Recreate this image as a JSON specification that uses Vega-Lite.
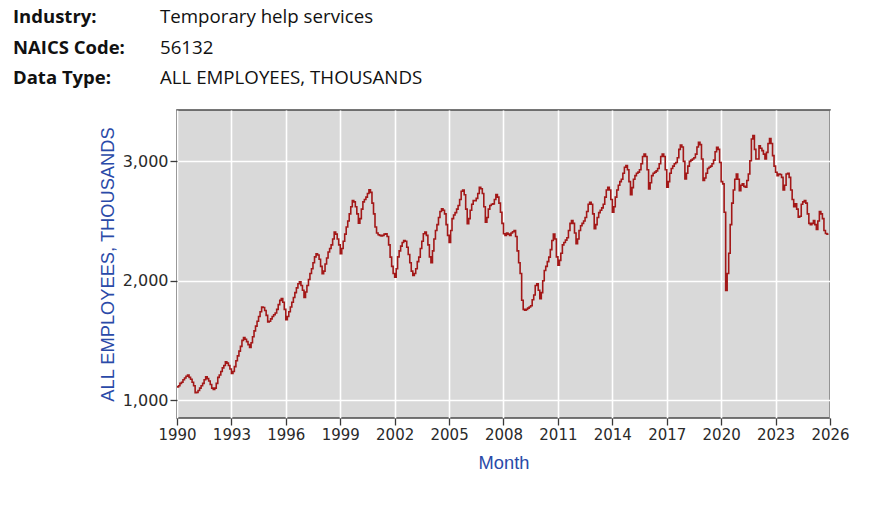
{
  "$schema": "https://vega.github.io/schema/vega-lite/v6.json",
  "autosize": {"type": "pad"},
  "padding": {"left": 13, "top": 7, "right": 10, "bottom": 10},
  "background": "white",
  "bounds": "flush",
  "title": {
    "text": ["Industry:", "NAICS Code:", "Data Type:"],
    "anchor": "start",
    "frame": "group",
    "font": "Open Sans",
    "fontSize": 18.5,
    "fontWeight": "bold",
    "color": "#111111",
    "lineHeight": 30.5,
    "dx": -164,
    "offset": -80
  },
  "config": {
    "view": {"fill": "#d9d9d9", "stroke": "#4a4a4a", "strokeWidth": 1.6},
    "axis": {
      "labelFont": "DejaVu Sans",
      "labelColor": "#2a2a2a",
      "tickColor": "#3a3a3a",
      "tickSize": 7,
      "tickWidth": 1.3,
      "domain": false,
      "gridColor": "#ffffff",
      "gridWidth": 1.6,
      "titleFont": "Liberation Sans",
      "titleFontWeight": "normal",
      "titleColor": "#2a4aa8",
      "titleFontSize": 18.3
    }
  },
  "vconcat": [
    {
      "width": 653,
      "height": 308,
      "title": {
        "text": ["Temporary help services", "56132", "ALL EMPLOYEES, THOUSANDS"],
        "anchor": "start",
        "frame": "group",
        "font": "Open Sans",
        "fontSize": 18.7,
        "fontWeight": "normal",
        "color": "#111111",
        "lineHeight": 30.5,
        "dx": -17,
        "offset": 22
      },
      "data": {
        "format": {"parse": {"m": "date:'%Y-%m'"}},
        "values": [
          {"m": "1990-01", "v": 1111}, {"m": "1990-02", "v": 1120}, {"m": "1990-03", "v": 1140}, {"m": "1990-04", "v": 1150}, {"m": "1990-05", "v": 1170}, {"m": "1990-06", "v": 1185}, {"m": "1990-07", "v": 1200}, {"m": "1990-08", "v": 1209}, {"m": "1990-09", "v": 1190}, {"m": "1990-10", "v": 1175}, {"m": "1990-11", "v": 1150}, {"m": "1990-12", "v": 1120},
          {"m": "1991-01", "v": 1061}, {"m": "1991-02", "v": 1065}, {"m": "1991-03", "v": 1080}, {"m": "1991-04", "v": 1100}, {"m": "1991-05", "v": 1120}, {"m": "1991-06", "v": 1140}, {"m": "1991-07", "v": 1170}, {"m": "1991-08", "v": 1195}, {"m": "1991-09", "v": 1180}, {"m": "1991-10", "v": 1160}, {"m": "1991-11", "v": 1130}, {"m": "1991-12", "v": 1100},
          {"m": "1992-01", "v": 1089}, {"m": "1992-02", "v": 1100}, {"m": "1992-03", "v": 1140}, {"m": "1992-04", "v": 1190}, {"m": "1992-05", "v": 1210}, {"m": "1992-06", "v": 1240}, {"m": "1992-07", "v": 1270}, {"m": "1992-08", "v": 1290}, {"m": "1992-09", "v": 1320}, {"m": "1992-10", "v": 1310}, {"m": "1992-11", "v": 1290}, {"m": "1992-12", "v": 1260},
          {"m": "1993-01", "v": 1223}, {"m": "1993-02", "v": 1240}, {"m": "1993-03", "v": 1280}, {"m": "1993-04", "v": 1330}, {"m": "1993-05", "v": 1370}, {"m": "1993-06", "v": 1410}, {"m": "1993-07", "v": 1450}, {"m": "1993-08", "v": 1500}, {"m": "1993-09", "v": 1524}, {"m": "1993-10", "v": 1510}, {"m": "1993-11", "v": 1490}, {"m": "1993-12", "v": 1465},
          {"m": "1994-01", "v": 1440}, {"m": "1994-02", "v": 1480}, {"m": "1994-03", "v": 1530}, {"m": "1994-04", "v": 1580}, {"m": "1994-05", "v": 1620}, {"m": "1994-06", "v": 1660}, {"m": "1994-07", "v": 1700}, {"m": "1994-08", "v": 1740}, {"m": "1994-09", "v": 1780}, {"m": "1994-10", "v": 1775}, {"m": "1994-11", "v": 1750}, {"m": "1994-12", "v": 1710},
          {"m": "1995-01", "v": 1654}, {"m": "1995-02", "v": 1660}, {"m": "1995-03", "v": 1680}, {"m": "1995-04", "v": 1700}, {"m": "1995-05", "v": 1715}, {"m": "1995-06", "v": 1730}, {"m": "1995-07", "v": 1760}, {"m": "1995-08", "v": 1800}, {"m": "1995-09", "v": 1835}, {"m": "1995-10", "v": 1850}, {"m": "1995-11", "v": 1820}, {"m": "1995-12", "v": 1760},
          {"m": "1996-01", "v": 1674}, {"m": "1996-02", "v": 1700}, {"m": "1996-03", "v": 1740}, {"m": "1996-04", "v": 1780}, {"m": "1996-05", "v": 1820}, {"m": "1996-06", "v": 1860}, {"m": "1996-07", "v": 1900}, {"m": "1996-08", "v": 1940}, {"m": "1996-09", "v": 1975}, {"m": "1996-10", "v": 1990}, {"m": "1996-11", "v": 1960}, {"m": "1996-12", "v": 1920},
          {"m": "1997-01", "v": 1860}, {"m": "1997-02", "v": 1905}, {"m": "1997-03", "v": 1960}, {"m": "1997-04", "v": 2010}, {"m": "1997-05", "v": 2060}, {"m": "1997-06", "v": 2100}, {"m": "1997-07", "v": 2150}, {"m": "1997-08", "v": 2200}, {"m": "1997-09", "v": 2226}, {"m": "1997-10", "v": 2215}, {"m": "1997-11", "v": 2180}, {"m": "1997-12", "v": 2120},
          {"m": "1998-01", "v": 2059}, {"m": "1998-02", "v": 2080}, {"m": "1998-03", "v": 2140}, {"m": "1998-04", "v": 2190}, {"m": "1998-05", "v": 2240}, {"m": "1998-06", "v": 2270}, {"m": "1998-07", "v": 2300}, {"m": "1998-08", "v": 2350}, {"m": "1998-09", "v": 2407}, {"m": "1998-10", "v": 2390}, {"m": "1998-11", "v": 2350}, {"m": "1998-12", "v": 2300},
          {"m": "1999-01", "v": 2226}, {"m": "1999-02", "v": 2270}, {"m": "1999-03", "v": 2330}, {"m": "1999-04", "v": 2390}, {"m": "1999-05", "v": 2450}, {"m": "1999-06", "v": 2500}, {"m": "1999-07", "v": 2560}, {"m": "1999-08", "v": 2620}, {"m": "1999-09", "v": 2671}, {"m": "1999-10", "v": 2660}, {"m": "1999-11", "v": 2620}, {"m": "1999-12", "v": 2560},
          {"m": "2000-01", "v": 2482}, {"m": "2000-02", "v": 2520}, {"m": "2000-03", "v": 2600}, {"m": "2000-04", "v": 2660}, {"m": "2000-05", "v": 2680}, {"m": "2000-06", "v": 2700}, {"m": "2000-07", "v": 2730}, {"m": "2000-08", "v": 2761}, {"m": "2000-09", "v": 2740}, {"m": "2000-10", "v": 2650}, {"m": "2000-11", "v": 2560}, {"m": "2000-12", "v": 2450},
          {"m": "2001-01", "v": 2400}, {"m": "2001-02", "v": 2385}, {"m": "2001-03", "v": 2380}, {"m": "2001-04", "v": 2375}, {"m": "2001-05", "v": 2380}, {"m": "2001-06", "v": 2390}, {"m": "2001-07", "v": 2393}, {"m": "2001-08", "v": 2370}, {"m": "2001-09", "v": 2300}, {"m": "2001-10", "v": 2198}, {"m": "2001-11", "v": 2120}, {"m": "2001-12", "v": 2060},
          {"m": "2002-01", "v": 2030}, {"m": "2002-02", "v": 2100}, {"m": "2002-03", "v": 2200}, {"m": "2002-04", "v": 2250}, {"m": "2002-05", "v": 2290}, {"m": "2002-06", "v": 2320}, {"m": "2002-07", "v": 2337}, {"m": "2002-08", "v": 2330}, {"m": "2002-09", "v": 2280}, {"m": "2002-10", "v": 2220}, {"m": "2002-11", "v": 2150}, {"m": "2002-12", "v": 2080},
          {"m": "2003-01", "v": 2045}, {"m": "2003-02", "v": 2060}, {"m": "2003-03", "v": 2100}, {"m": "2003-04", "v": 2160}, {"m": "2003-05", "v": 2198}, {"m": "2003-06", "v": 2270}, {"m": "2003-07", "v": 2330}, {"m": "2003-08", "v": 2393}, {"m": "2003-09", "v": 2407}, {"m": "2003-10", "v": 2380}, {"m": "2003-11", "v": 2300}, {"m": "2003-12", "v": 2200},
          {"m": "2004-01", "v": 2150}, {"m": "2004-02", "v": 2250}, {"m": "2004-03", "v": 2350}, {"m": "2004-04", "v": 2420}, {"m": "2004-05", "v": 2470}, {"m": "2004-06", "v": 2530}, {"m": "2004-07", "v": 2580}, {"m": "2004-08", "v": 2602}, {"m": "2004-09", "v": 2590}, {"m": "2004-10", "v": 2560}, {"m": "2004-11", "v": 2470}, {"m": "2004-12", "v": 2380},
          {"m": "2005-01", "v": 2320}, {"m": "2005-02", "v": 2420}, {"m": "2005-03", "v": 2520}, {"m": "2005-04", "v": 2550}, {"m": "2005-05", "v": 2570}, {"m": "2005-06", "v": 2600}, {"m": "2005-07", "v": 2630}, {"m": "2005-08", "v": 2680}, {"m": "2005-09", "v": 2749}, {"m": "2005-10", "v": 2760}, {"m": "2005-11", "v": 2720}, {"m": "2005-12", "v": 2600},
          {"m": "2006-01", "v": 2477}, {"m": "2006-02", "v": 2520}, {"m": "2006-03", "v": 2590}, {"m": "2006-04", "v": 2640}, {"m": "2006-05", "v": 2671}, {"m": "2006-06", "v": 2671}, {"m": "2006-07", "v": 2690}, {"m": "2006-08", "v": 2730}, {"m": "2006-09", "v": 2783}, {"m": "2006-10", "v": 2770}, {"m": "2006-11", "v": 2730}, {"m": "2006-12", "v": 2620},
          {"m": "2007-01", "v": 2490}, {"m": "2007-02", "v": 2530}, {"m": "2007-03", "v": 2600}, {"m": "2007-04", "v": 2630}, {"m": "2007-05", "v": 2640}, {"m": "2007-06", "v": 2644}, {"m": "2007-07", "v": 2680}, {"m": "2007-08", "v": 2722}, {"m": "2007-09", "v": 2700}, {"m": "2007-10", "v": 2650}, {"m": "2007-11", "v": 2574}, {"m": "2007-12", "v": 2480},
          {"m": "2008-01", "v": 2393}, {"m": "2008-02", "v": 2380}, {"m": "2008-03", "v": 2400}, {"m": "2008-04", "v": 2390}, {"m": "2008-05", "v": 2380}, {"m": "2008-06", "v": 2400}, {"m": "2008-07", "v": 2410}, {"m": "2008-08", "v": 2420}, {"m": "2008-09", "v": 2370}, {"m": "2008-10", "v": 2250}, {"m": "2008-11", "v": 2150}, {"m": "2008-12", "v": 2060},
          {"m": "2009-01", "v": 1836}, {"m": "2009-02", "v": 1760}, {"m": "2009-03", "v": 1752}, {"m": "2009-04", "v": 1760}, {"m": "2009-05", "v": 1770}, {"m": "2009-06", "v": 1780}, {"m": "2009-07", "v": 1790}, {"m": "2009-08", "v": 1840}, {"m": "2009-09", "v": 1880}, {"m": "2009-10", "v": 1960}, {"m": "2009-11", "v": 1975}, {"m": "2009-12", "v": 1920},
          {"m": "2010-01", "v": 1850}, {"m": "2010-02", "v": 1900}, {"m": "2010-03", "v": 2000}, {"m": "2010-04", "v": 2086}, {"m": "2010-05", "v": 2120}, {"m": "2010-06", "v": 2160}, {"m": "2010-07", "v": 2198}, {"m": "2010-08", "v": 2260}, {"m": "2010-09", "v": 2337}, {"m": "2010-10", "v": 2390}, {"m": "2010-11", "v": 2350}, {"m": "2010-12", "v": 2200},
          {"m": "2011-01", "v": 2130}, {"m": "2011-02", "v": 2170}, {"m": "2011-03", "v": 2230}, {"m": "2011-04", "v": 2300}, {"m": "2011-05", "v": 2320}, {"m": "2011-06", "v": 2340}, {"m": "2011-07", "v": 2360}, {"m": "2011-08", "v": 2420}, {"m": "2011-09", "v": 2480}, {"m": "2011-10", "v": 2504}, {"m": "2011-11", "v": 2480}, {"m": "2011-12", "v": 2400},
          {"m": "2012-01", "v": 2310}, {"m": "2012-02", "v": 2350}, {"m": "2012-03", "v": 2420}, {"m": "2012-04", "v": 2460}, {"m": "2012-05", "v": 2480}, {"m": "2012-06", "v": 2500}, {"m": "2012-07", "v": 2530}, {"m": "2012-08", "v": 2580}, {"m": "2012-09", "v": 2640}, {"m": "2012-10", "v": 2657}, {"m": "2012-11", "v": 2640}, {"m": "2012-12", "v": 2560},
          {"m": "2013-01", "v": 2435}, {"m": "2013-02", "v": 2470}, {"m": "2013-03", "v": 2530}, {"m": "2013-04", "v": 2570}, {"m": "2013-05", "v": 2590}, {"m": "2013-06", "v": 2610}, {"m": "2013-07", "v": 2640}, {"m": "2013-08", "v": 2700}, {"m": "2013-09", "v": 2760}, {"m": "2013-10", "v": 2783}, {"m": "2013-11", "v": 2760}, {"m": "2013-12", "v": 2680},
          {"m": "2014-01", "v": 2574}, {"m": "2014-02", "v": 2620}, {"m": "2014-03", "v": 2700}, {"m": "2014-04", "v": 2760}, {"m": "2014-05", "v": 2800}, {"m": "2014-06", "v": 2830}, {"m": "2014-07", "v": 2850}, {"m": "2014-08", "v": 2900}, {"m": "2014-09", "v": 2950}, {"m": "2014-10", "v": 2964}, {"m": "2014-11", "v": 2930}, {"m": "2014-12", "v": 2830},
          {"m": "2015-01", "v": 2720}, {"m": "2015-02", "v": 2780}, {"m": "2015-03", "v": 2850}, {"m": "2015-04", "v": 2880}, {"m": "2015-05", "v": 2900}, {"m": "2015-06", "v": 2910}, {"m": "2015-07", "v": 2930}, {"m": "2015-08", "v": 2980}, {"m": "2015-09", "v": 3040}, {"m": "2015-10", "v": 3062}, {"m": "2015-11", "v": 3040}, {"m": "2015-12", "v": 2930},
          {"m": "2016-01", "v": 2769}, {"m": "2016-02", "v": 2820}, {"m": "2016-03", "v": 2880}, {"m": "2016-04", "v": 2900}, {"m": "2016-05", "v": 2910}, {"m": "2016-06", "v": 2920}, {"m": "2016-07", "v": 2940}, {"m": "2016-08", "v": 2980}, {"m": "2016-09", "v": 3040}, {"m": "2016-10", "v": 3062}, {"m": "2016-11", "v": 3040}, {"m": "2016-12", "v": 2930},
          {"m": "2017-01", "v": 2783}, {"m": "2017-02", "v": 2830}, {"m": "2017-03", "v": 2900}, {"m": "2017-04", "v": 2940}, {"m": "2017-05", "v": 2960}, {"m": "2017-06", "v": 2980}, {"m": "2017-07", "v": 2990}, {"m": "2017-08", "v": 3030}, {"m": "2017-09", "v": 3100}, {"m": "2017-10", "v": 3137}, {"m": "2017-11", "v": 3120}, {"m": "2017-12", "v": 3000},
          {"m": "2018-01", "v": 2853}, {"m": "2018-02", "v": 2900}, {"m": "2018-03", "v": 2960}, {"m": "2018-04", "v": 3000}, {"m": "2018-05", "v": 3010}, {"m": "2018-06", "v": 3020}, {"m": "2018-07", "v": 3030}, {"m": "2018-08", "v": 3060}, {"m": "2018-09", "v": 3120}, {"m": "2018-10", "v": 3159}, {"m": "2018-11", "v": 3140}, {"m": "2018-12", "v": 3020},
          {"m": "2019-01", "v": 2839}, {"m": "2019-02", "v": 2860}, {"m": "2019-03", "v": 2900}, {"m": "2019-04", "v": 2940}, {"m": "2019-05", "v": 2950}, {"m": "2019-06", "v": 2960}, {"m": "2019-07", "v": 2980}, {"m": "2019-08", "v": 3010}, {"m": "2019-09", "v": 3080}, {"m": "2019-10", "v": 3117}, {"m": "2019-11", "v": 3100}, {"m": "2019-12", "v": 2990},
          {"m": "2020-01", "v": 2830}, {"m": "2020-02", "v": 2811}, {"m": "2020-03", "v": 2574}, {"m": "2020-04", "v": 1919}, {"m": "2020-05", "v": 2060}, {"m": "2020-06", "v": 2230}, {"m": "2020-07", "v": 2470}, {"m": "2020-08", "v": 2650}, {"m": "2020-09", "v": 2760}, {"m": "2020-10", "v": 2850}, {"m": "2020-11", "v": 2894}, {"m": "2020-12", "v": 2850},
          {"m": "2021-01", "v": 2755}, {"m": "2021-02", "v": 2800}, {"m": "2021-03", "v": 2811}, {"m": "2021-04", "v": 2790}, {"m": "2021-05", "v": 2783}, {"m": "2021-06", "v": 2840}, {"m": "2021-07", "v": 2894}, {"m": "2021-08", "v": 3005}, {"m": "2021-09", "v": 3187}, {"m": "2021-10", "v": 3215}, {"m": "2021-11", "v": 3100}, {"m": "2021-12", "v": 3020},
          {"m": "2022-01", "v": 3020}, {"m": "2022-02", "v": 3131}, {"m": "2022-03", "v": 3110}, {"m": "2022-04", "v": 3090}, {"m": "2022-05", "v": 3060}, {"m": "2022-06", "v": 3020}, {"m": "2022-07", "v": 3075}, {"m": "2022-08", "v": 3150}, {"m": "2022-09", "v": 3190}, {"m": "2022-10", "v": 3150}, {"m": "2022-11", "v": 3048}, {"m": "2022-12", "v": 2960},
          {"m": "2023-01", "v": 2908}, {"m": "2023-02", "v": 2880}, {"m": "2023-03", "v": 2894}, {"m": "2023-04", "v": 2890}, {"m": "2023-05", "v": 2866}, {"m": "2023-06", "v": 2760}, {"m": "2023-07", "v": 2800}, {"m": "2023-08", "v": 2894}, {"m": "2023-09", "v": 2900}, {"m": "2023-10", "v": 2866}, {"m": "2023-11", "v": 2760}, {"m": "2023-12", "v": 2680},
          {"m": "2024-01", "v": 2620}, {"m": "2024-02", "v": 2644}, {"m": "2024-03", "v": 2600}, {"m": "2024-04", "v": 2532}, {"m": "2024-05", "v": 2540}, {"m": "2024-06", "v": 2640}, {"m": "2024-07", "v": 2660}, {"m": "2024-08", "v": 2671}, {"m": "2024-09", "v": 2650}, {"m": "2024-10", "v": 2560}, {"m": "2024-11", "v": 2480}, {"m": "2024-12", "v": 2470},
          {"m": "2025-01", "v": 2480}, {"m": "2025-02", "v": 2504}, {"m": "2025-03", "v": 2470}, {"m": "2025-04", "v": 2430}, {"m": "2025-05", "v": 2500}, {"m": "2025-06", "v": 2580}, {"m": "2025-07", "v": 2560}, {"m": "2025-08", "v": 2520}, {"m": "2025-09", "v": 2420}, {"m": "2025-10", "v": 2395}, {"m": "2025-11", "v": 2390}, {"m": "2025-12", "v": 2390}
        ]
      },
      "mark": {"type": "line", "interpolate": "step-after", "color": "#a31818", "strokeWidth": 1.6, "clip": true},
      "encoding": {
        "x": {
          "field": "m",
          "type": "temporal",
          "scale": {"domain": [{"year": 1990, "month": 1, "date": 1}, {"year": 2026, "month": 1, "date": 1}]},
          "axis": {
            "title": "Month",
            "format": "%Y",
            "values": [
              {"year": 1990, "month": 1, "date": 1}, {"year": 1993, "month": 1, "date": 1}, {"year": 1996, "month": 1, "date": 1},
              {"year": 1999, "month": 1, "date": 1}, {"year": 2002, "month": 1, "date": 1}, {"year": 2005, "month": 1, "date": 1},
              {"year": 2008, "month": 1, "date": 1}, {"year": 2011, "month": 1, "date": 1}, {"year": 2014, "month": 1, "date": 1},
              {"year": 2017, "month": 1, "date": 1}, {"year": 2020, "month": 1, "date": 1}, {"year": 2023, "month": 1, "date": 1},
              {"year": 2026, "month": 1, "date": 1}
            ],
            "labelFontSize": 15,
            "labelPadding": 2,
            "labelFlush": false,
            "titlePadding": 12
          }
        },
        "y": {
          "field": "v",
          "type": "quantitative",
          "scale": {"domain": [850, 3430], "nice": false, "zero": false},
          "axis": {
            "title": "ALL EMPLOYEES, THOUSANDS",
            "values": [1000, 2000, 3000],
            "format": ",d",
            "labelFontSize": 16,
            "labelPadding": 2,
            "titlePadding": 5
          }
        }
      }
    }
  ]
}
